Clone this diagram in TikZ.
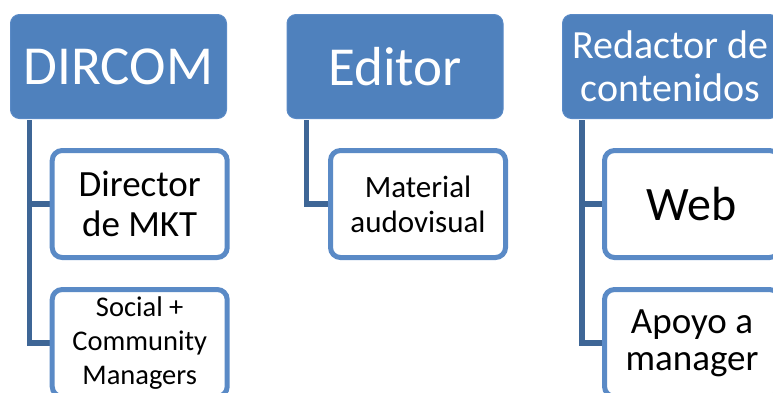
\documentclass[tikz,border=0pt]{standalone}
\usepackage{fontspec}
\setmainfont{Carlito}
\definecolor{boxblue}{HTML}{4F81BD}
\definecolor{edgeblue}{HTML}{5A8AC6}
\definecolor{linkblue}{HTML}{3E6696}
\tikzset{
  parentbox/.style={fill=boxblue, draw=edgeblue, line width=1pt, rounded corners=9pt,
    text=white, align=center, inner sep=0pt, minimum width=216pt, minimum height=104pt},
  childbox/.style={fill=white, draw=edgeblue, line width=5pt, rounded corners=10pt,
    text=black, align=center, inner sep=0pt, minimum width=175pt, minimum height=107pt},
  link/.style={draw=linkblue, line width=5.5pt}
}
\begin{document}
\begin{tikzpicture}[x=1pt,y=-1pt]
\useasboundingbox (0,0) rectangle (773,392);
% parents
\node[parentbox, font={\fontsize{55}{66}\selectfont}] (dircom) at (118.5,66.5) {DIRCOM};
\node[parentbox, font={\fontsize{55}{66}\selectfont}] (editor) at (395,66.5) {Editor};
\node[parentbox, font={\fontsize{40}{43}\selectfont}] (redac) at (670.5,66.5) {Redactor de\\contenidos};
% link start points
\coordinate (d0) at ([xshift=19.5pt,yshift=-1pt]dircom.south west);
\coordinate (e0) at ([xshift=20pt,yshift=-1pt]editor.south west);
\coordinate (r0) at ([xshift=20pt,yshift=-1pt]redac.south west);
% child anchors (positions)
\coordinate (pdir) at (139.7,204);
\coordinate (psoc) at (139.7,343);
\coordinate (pmat) at (418,204);
\coordinate (pweb) at (692,204);
\coordinate (papo) at (692,343);
% links (drawn first, under boxes)
\draw[link] (d0) |- ([xshift=-80pt]pdir);
\draw[link] (d0) |- ([xshift=-80pt]psoc);
\draw[link] (e0) |- ([xshift=-80pt]pmat);
\draw[link] (r0) |- ([xshift=-80pt]pweb);
\draw[link] (r0) |- ([xshift=-80pt]papo);
% children
\node[childbox, font={\fontsize{37}{40}\selectfont}] (dir) at (pdir) {Director\\de MKT};
\node[childbox, font={\fontsize{28.5}{34}\selectfont}] (soc) at (psoc) {Social +\\Community\\Managers};
\node[childbox, font={\fontsize{31}{35}\selectfont}] (mat) at (pmat) {Material\\audovisual};
\node[childbox, font={\fontsize{48}{50}\selectfont}] (web) at (pweb) {Web};
\node[childbox, font={\fontsize{37}{37}\selectfont}] (apo) at (papo) {Apoyo a\\manager};
\end{tikzpicture}
\end{document}
